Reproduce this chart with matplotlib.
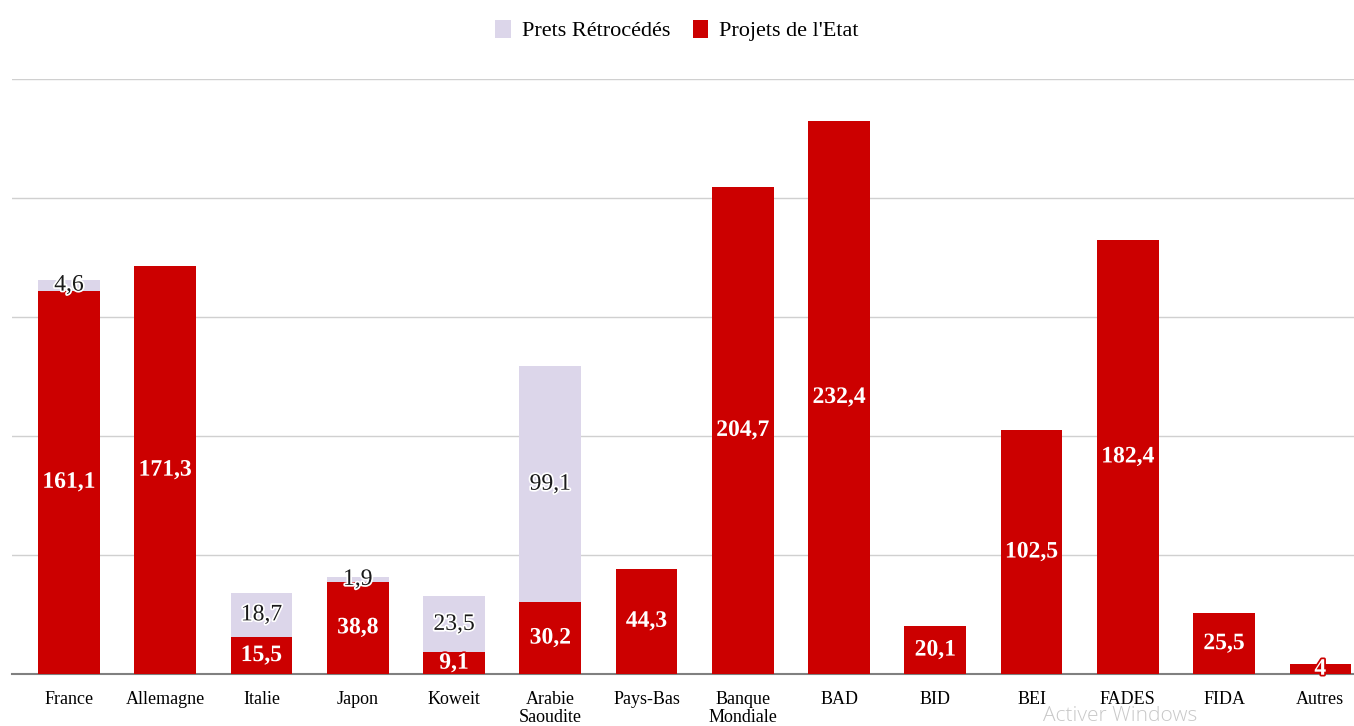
import matplotlib.pyplot as plt
import matplotlib.patheffects as pe
import numpy as np

categories = ['France', 'Allemagne', 'Italie', 'Japon', 'Koweit', 'Arabie\nSaoudite',
              'Pays-Bas', 'Banque\nMondiale', 'BAD', 'BID', 'BEI', 'FADES', 'FIDA', 'Autres']
projets = [161.1, 171.3, 15.5, 38.8, 9.1, 30.2, 44.3, 204.7, 232.4, 20.1, 102.5, 182.4, 25.5, 4]
prets = [4.6, 0, 18.7, 1.9, 23.5, 99.1, 0, 0, 0, 0, 0, 0, 0, 0]

red = '#cc0000'
pale = '#dcd6ea'
serif = ['Liberation Serif', 'DejaVu Serif']

fig = plt.figure(figsize=(13.54, 7.26), dpi=100)
ax = fig.add_axes([0.009, 0.0716, 0.991, 0.8196])

x = np.arange(len(categories))
ax.bar(x, projets, width=0.64, color=red, label="Projets de l'Etat", zorder=3)
ax.bar(x, prets, width=0.64, bottom=projets, color=pale, label='Prets Rétrocédés', zorder=3)

# value labels
for i in range(len(categories)):
    p = projets[i]
    ax.text(x[i], p / 2, f'{p:g}'.replace('.', ','), ha='center', va='center',
            color='white', fontsize=17, fontweight='bold', family=serif, zorder=5,
            path_effects=[pe.withStroke(linewidth=2.5, foreground=red)])
    if prets[i] > 0:
        ax.text(x[i], p + prets[i] / 2, f'{prets[i]:g}'.replace('.', ','), ha='center',
                va='center', color='#1a1a1a', fontsize=17, family=serif, zorder=5,
                path_effects=[pe.withStroke(linewidth=2.5, foreground='white')])

ax.set_xlim(-0.59, 13.35)
ax.set_ylim(0, 250)
ax.set_yticks([0, 50, 100, 150, 200, 250])
ax.yaxis.grid(True, color='#d0d0d0', linewidth=1, zorder=0)
ax.tick_params(axis='y', left=False, labelleft=False)
ax.tick_params(axis='x', length=0, pad=12)
ax.set_xticks(x)
ax.set_xticklabels(categories, fontsize=13, family=serif, linespacing=1.1, va='top')
for s in ['top', 'right', 'left']:
    ax.spines[s].set_visible(False)
ax.spines['bottom'].set_color('#808080')
ax.spines['bottom'].set_linewidth(1.5)

handles, labels = ax.get_legend_handles_labels()
fig.legend(handles[::-1], labels[::-1], loc='center', bbox_to_anchor=(0.5, 0.958), ncol=2,
           frameon=False, prop={'family': serif, 'size': 16}, handlelength=0.7,
           handleheight=0.9, handletextpad=0.5, columnspacing=1.0)

# watermark seen in the original screenshot
fig.text(0.77, 0.0, 'Activer Windows', fontsize=15, color='#c8c8c8', va='bottom',
         family=['Open Sans', 'DejaVu Sans'], fontweight='light')

fig.savefig('out.png', dpi=100)
